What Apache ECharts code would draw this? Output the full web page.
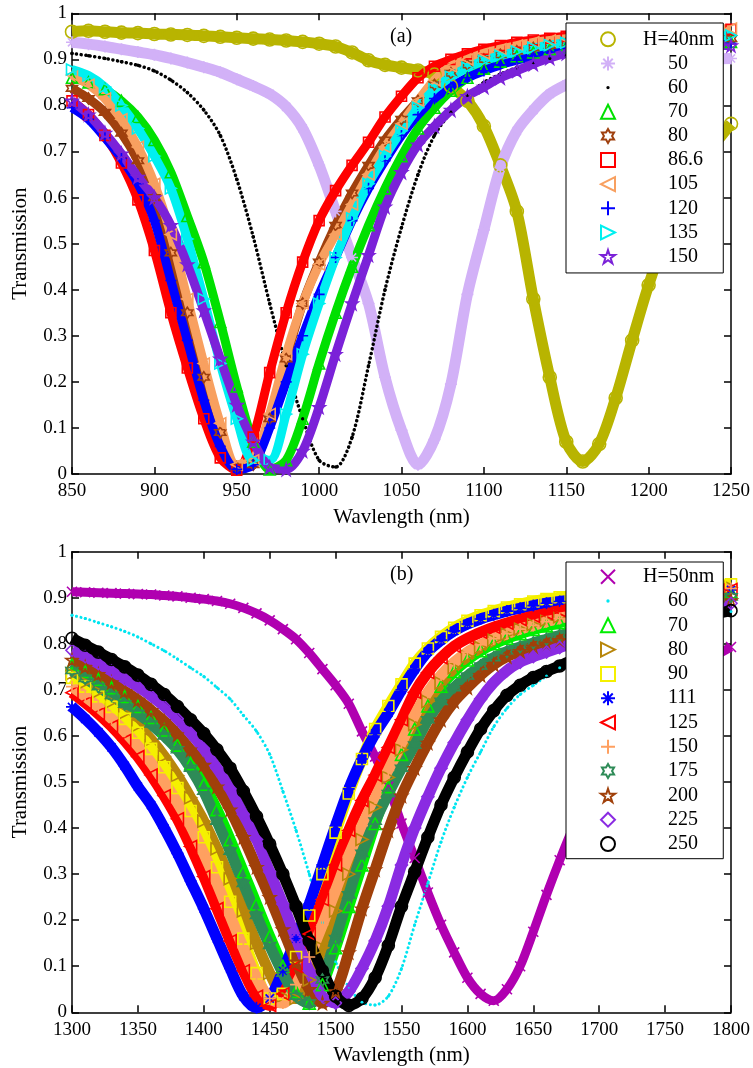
<!DOCTYPE html>
<html>
<head>
<meta charset="utf-8">
<script src="https://cdn.jsdelivr.net/npm/echarts@6/dist/echarts.min.js"></script>
<style>
  html, body { margin: 0; padding: 0; background: #fff; }
  #chart { width: 753px; height: 1068px; }
</style>
</head>
<body>
<div id="chart"></div>
<script>
// wavelength grids (nm)
var wlA = [850, 860, 870, 880, 890, 900, 910, 920, 930, 940, 950, 960, 970, 980, 990, 1000, 1010, 1020, 1030, 1040,
  1050, 1060, 1070, 1080, 1090, 1100, 1110, 1120, 1130, 1140, 1150, 1160, 1170, 1180, 1190, 1200, 1210, 1220, 1230, 1240, 1250];
var wlB = [1300, 1310, 1320, 1330, 1340, 1350, 1360, 1370, 1380, 1390, 1400, 1410, 1420, 1430, 1440, 1450, 1460, 1470, 1480, 1490,
  1500, 1510, 1520, 1530, 1540, 1550, 1560, 1570, 1580, 1590, 1600, 1610, 1620, 1630, 1640, 1650, 1660, 1670, 1680, 1690,
  1700, 1710, 1720, 1730, 1740, 1750, 1760, 1770, 1780, 1790, 1800];

// (a) transmission for H = 40 ... 150 nm
var tA40 = [.960, .962, .960, .958, .957, .955, .954, .953, .951, .949, .947, .945, .943, .941, .938, .934, .928, .915, .898, .888,
  .882, .876, .867, .842, .810, .755, .670, .570, .380, .210, .070, .027, .065, .165, .290, .410, .510, .590, .660, .715, .760];
var tA50 = [.937, .933, .928, .922, .916, .910, .902, .893, .883, .872, .857, .842, .825, .797, .750, .670, .570, .470, .370, .210,
  .095, .020, .075, .195, .390, .530, .665, .745, .790, .825, .845, .860, .870, .878, .884, .889, .893, .896, .899, .901, .902];
var tA60 = [.913, .908, .902, .895, .887, .875, .855, .828, .790, .735, .640, .515, .370, .235, .120, .030, .015, .080, .235, .400,
  .535, .650, .735, .785, .822, .850, .868, .882, .893, .902, .908, .914, .919, .923, .926, .929, .931, .933, .935, .936, .937];
var tA70 = [.860, .850, .835, .810, .775, .725, .655, .560, .460, .330, .190, .070, .010, .030, .120, .240, .350, .450, .540, .620,
  .690, .750, .795, .832, .860, .880, .895, .907, .915, .922, .927, .930, .932, .934, .935, .936, .937, .937, .938, .938, .938];
var tA80 = [.837, .815, .785, .740, .680, .600, .480, .350, .210, .090, .015, .020, .120, .250, .370, .460, .540, .610, .670, .725,
  .770, .810, .845, .870, .888, .900, .910, .918, .925, .930, .935, .938, .940, .941, .942, .943, .944, .944, .945, .945, .945];
var tA866 = [.810, .780, .735, .675, .595, .485, .350, .230, .120, .035, .008, .080, .220, .350, .460, .550, .615, .670, .720, .775,
  .820, .860, .885, .900, .912, .922, .930, .937, .942, .946, .950, .953, .955, .957, .959, .960, .961, .962, .963, .964, .965];
var tA105 = [.866, .845, .815, .770, .710, .630, .520, .380, .240, .110, .020, .030, .130, .260, .370, .455, .520, .585, .650, .710,
  .760, .810, .855, .885, .900, .913, .922, .930, .937, .941, .945, .949, .952, .955, .957, .959, .961, .963, .965, .966, .967];
var tA120 = [.795, .770, .730, .685, .630, .550, .420, .290, .160, .060, .010, .020, .100, .200, .300, .390, .470, .550, .620, .680,
  .735, .780, .815, .840, .860, .875, .888, .898, .907, .916, .924, .928, .930, .932, .933, .934, .935, .935, .935, .935, .935];
var tA135 = [.878, .865, .840, .800, .750, .690, .620, .510, .380, .240, .120, .030, .030, .130, .260, .370, .470, .555, .630, .690,
  .745, .795, .835, .862, .882, .897, .908, .917, .925, .931, .936, .940, .943, .945, .947, .948, .949, .950, .951, .951, .952];
var tA150 = [.810, .780, .740, .695, .645, .600, .540, .455, .355, .250, .150, .070, .015, .010, .050, .145, .260, .370, .475, .580,
  .655, .715, .755, .790, .820, .840, .860, .875, .890, .903, .913, .918, .921, .924, .926, .927, .928, .929, .930, .930, .930];

// (b) transmission for H = 50 ... 250 nm
var tB50 = [.913, .912, .911, .910, .909, .908, .907, .905, .903, .900, .897, .893, .887, .878, .866, .851, .832, .810, .780, .745,
  .710, .670, .610, .555, .490, .410, .335, .260, .190, .130, .075, .040, .025, .050, .100, .175, .255, .330, .400, .460,
  .515, .560, .600, .635, .670, .695, .720, .740, .760, .777, .793];
var tB60 = [.862, .855, .846, .837, .827, .815, .800, .785, .767, .748, .729, .705, .680, .645, .610, .560, .480, .395, .300, .195,
  .110, .055, .022, .016, .035, .095, .190, .280, .370, .445, .510, .565, .620, .660, .690, .710, .730, .748, .765, .780,
  .793, .805, .815, .825, .834, .842, .849, .855, .860, .865, .870];
var tB70 = [.755, .740, .723, .705, .686, .664, .640, .613, .580, .540, .495, .440, .375, .305, .235, .165, .100, .045, .020, .060,
  .140, .230, .320, .410, .490, .560, .615, .665, .708, .740, .765, .785, .800, .812, .822, .831, .839, .846, .853, .860,
  .866, .872, .878, .883, .888, .893, .898, .902, .906, .910, .913];
var tB80 = [.735, .716, .696, .674, .650, .623, .592, .556, .514, .466, .415, .355, .290, .220, .150, .085, .035, .030, .070, .140,
  .220, .300, .375, .445, .510, .570, .625, .675, .715, .748, .772, .792, .808, .821, .832, .842, .851, .859, .866, .872,
  .878, .884, .889, .894, .899, .903, .907, .911, .915, .919, .922];
var tB90 = [.726, .707, .686, .663, .637, .607, .572, .532, .487, .437, .380, .315, .240, .160, .085, .030, .040, .120, .210, .300,
  .390, .475, .550, .615, .665, .712, .757, .790, .815, .835, .850, .862, .871, .879, .886, .892, .897, .901, .905, .908,
  .911, .914, .916, .918, .920, .922, .924, .926, .927, .928, .929];
var tB111 = [.663, .637, .608, .575, .535, .490, .450, .400, .345, .285, .225, .160, .095, .035, .010, .030, .090, .160, .235, .320,
  .405, .485, .550, .605, .650, .700, .745, .783, .808, .828, .843, .854, .863, .871, .877, .883, .888, .892, .896, .899,
  .902, .905, .907, .909, .911, .912, .913, .914, .915, .916, .917];
var tB125 = [.694, .672, .648, .621, .590, .555, .515, .470, .420, .360, .295, .225, .155, .090, .035, .015, .040, .100, .170, .245,
  .320, .395, .460, .515, .575, .635, .695, .738, .770, .795, .812, .825, .836, .845, .853, .860, .866, .872, .877, .882,
  .886, .890, .894, .898, .901, .904, .907, .910, .913, .916, .918];
var tB150 = [.707, .686, .663, .638, .610, .578, .542, .500, .455, .405, .345, .280, .210, .140, .075, .030, .020, .060, .120, .190,
  .265, .340, .405, .465, .525, .585, .645, .695, .732, .760, .782, .798, .811, .822, .832, .840, .848, .855, .862, .868,
  .874, .880, .885, .890, .895, .900, .905, .909, .913, .917, .920];
var tB175 = [.742, .725, .707, .688, .669, .649, .626, .600, .570, .530, .480, .415, .350, .280, .210, .145, .085, .035, .020, .070,
  .160, .255, .345, .415, .475, .530, .580, .635, .675, .705, .730, .752, .770, .783, .793, .802, .810, .818, .826, .834,
  .842, .849, .856, .863, .870, .876, .882, .887, .892, .897, .902];
var tB200 = [.765, .750, .734, .716, .697, .678, .656, .632, .603, .570, .537, .490, .440, .380, .315, .250, .180, .110, .050, .020,
  .045, .130, .225, .310, .395, .470, .530, .585, .635, .675, .705, .732, .755, .772, .784, .793, .800, .808, .815, .823,
  .830, .838, .845, .852, .859, .866, .872, .878, .884, .889, .894];
var tB225 = [.786, .772, .757, .741, .724, .707, .687, .664, .637, .606, .572, .530, .485, .430, .375, .305, .235, .160, .090, .035,
  .020, .045, .095, .155, .230, .320, .400, .468, .530, .585, .635, .680, .716, .742, .760, .772, .782, .792, .802, .812,
  .822, .831, .840, .848, .855, .862, .868, .874, .879, .884, .888];
var tB250 = [.812, .797, .782, .766, .750, .732, .712, .690, .664, .635, .605, .570, .530, .480, .425, .365, .300, .230, .155, .090,
  .035, .015, .030, .075, .145, .230, .305, .380, .450, .510, .565, .615, .655, .688, .710, .727, .740, .752, .765, .778,
  .790, .800, .810, .820, .830, .838, .846, .853, .860, .866, .872];

var FONT = '"Liberation Serif", "Times New Roman", serif';

// marker shapes (MATLAB style)
var SYM = {
  circle: 'circle',
  asterisk: 'path://M5,0L5,10M0,5L10,5M1.6,1.6L8.4,8.4M8.4,1.6L1.6,8.4',
  dot: 'circle',
  dotIcon: 'path://M0,0L0.01,0M10,10L10.01,10M3.8,5A1.2,1.2 0 1 0 6.2,5A1.2,1.2 0 1 0 3.8,5Z',
  triUp: 'triangle',
  hexagram: 'path://M5,0L6.443,2.5L9.33,2.5L7.887,5L9.33,7.5L6.443,7.5L5,10L3.557,7.5L0.67,7.5L2.113,5L0.67,2.5L3.557,2.5Z',
  square: 'rect',
  triLeft: 'path://M0,5L10,0L10,10Z',
  triRight: 'path://M10,5L0,0L0,10Z',
  plus: 'path://M5,0L5,10M0,5L10,5',
  star: 'path://M5,0L6.123,3.455L9.755,3.455L6.817,5.59L7.939,9.045L5,6.91L2.061,9.045L3.183,5.59L0.245,3.455L3.877,3.455Z',
  cross: 'path://M0,0L10,10M10,0L0,10',
  diamond: 'diamond'
};

function curve(name, xs, ys, color, sym, size, width, axis, dotted) {
  return {
    type: 'line',
    name: name,
    xAxisIndex: axis,
    yAxisIndex: axis,
    data: xs.map(function (x, i) { return [x, ys[i]]; }),
    symbol: sym,
    symbolSize: size,
    showSymbol: true,
    showAllSymbol: true,
    smooth: 0.3,
    silent: true,
    color: color,
    lineStyle: dotted ? { color: color, width: width, type: [0.1, 4.5], cap: 'round' }
                      : { color: color, width: width },
    itemStyle: dotted ? { color: color, borderWidth: 0 }
                      : { color: 'rgba(255,255,255,0)', borderColor: color, borderWidth: 1.6 },
    emphasis: { disabled: true }
  };
}

var seriesA = [
  curve('a:H=40nm', wlA, tA40, '#b8b400', SYM.circle, 13, 11, 0),
  curve('a:50', wlA, tA50, '#d2b1f7', SYM.asterisk, 12, 11, 0),
  curve('a:60', wlA, tA60, '#000000', SYM.dot, 3.5, 3.5, 0, true),
  curve('a:70', wlA, tA70, '#00e000', SYM.triUp, 11, 9, 0),
  curve('a:80', wlA, tA80, '#a0400e', SYM.hexagram, 11, 9, 0),
  curve('a:86.6', wlA, tA866, '#ff0000', SYM.square, 10, 9, 0),
  curve('a:105', wlA, tA105, '#f8a060', SYM.triLeft, 11, 9, 0),
  curve('a:120', wlA, tA120, '#0000ff', SYM.plus, 11, 9, 0),
  curve('a:135', wlA, tA135, '#00f0f0', SYM.triRight, 11, 9, 0),
  curve('a:150', wlA, tA150, '#7b22d8', SYM.star, 12, 9, 0)
];
var iconsA = [SYM.circle, SYM.asterisk, SYM.dotIcon, SYM.triUp, SYM.hexagram, SYM.square, SYM.triLeft, SYM.plus, SYM.triRight, SYM.star];

var seriesB = [
  curve('b:H=50nm', wlB, tB50, '#b000b0', SYM.cross, 10, 9, 2),
  curve('b:60', wlB, tB60, '#00e5f0', SYM.dot, 3, 3, 2, true),
  curve('b:70', wlB, tB70, '#00ee00', SYM.triUp, 12, 11, 2),
  curve('b:80', wlB, tB80, '#b8860b', SYM.triRight, 12, 11, 2),
  curve('b:90', wlB, tB90, '#f5f000', SYM.square, 11, 11, 2),
  curve('b:111', wlB, tB111, '#0000ff', SYM.asterisk, 12, 11, 2),
  curve('b:125', wlB, tB125, '#ff0000', SYM.triLeft, 12, 11, 2),
  curve('b:150', wlB, tB150, '#ffa060', SYM.plus, 12, 11, 2),
  curve('b:175', wlB, tB175, '#2e8b57', SYM.hexagram, 12, 11, 2),
  curve('b:200', wlB, tB200, '#a0400a', SYM.star, 12, 11, 2),
  curve('b:225', wlB, tB225, '#8a2be2', SYM.diamond, 12, 11, 2),
  curve('b:250', wlB, tB250, '#000000', SYM.circle, 12, 11, 2)
];
var iconsB = [SYM.cross, SYM.dotIcon, SYM.triUp, SYM.triRight, SYM.square, SYM.asterisk, SYM.triLeft, SYM.plus, SYM.hexagram, SYM.star, SYM.diamond, SYM.circle];

function plain(v) { return String(v); }

function xAxis(grid, min, max, pos, labels) {
  return {
    type: 'value', gridIndex: grid, min: min, max: max, interval: 50, position: pos,
    axisLine: { show: true, onZero: false, lineStyle: { color: '#000', width: 1.5 } },
    axisTick: { show: true, inside: true, length: 7, lineStyle: { color: '#000', width: 1.5 } },
    axisLabel: { show: labels, color: '#000', fontFamily: FONT, fontSize: 19, margin: 8,
                 showMinLabel: true, showMaxLabel: true, formatter: plain },
    splitLine: { show: false },
    name: labels ? 'Wavlength (nm)' : '',
    nameLocation: 'middle', nameGap: 33,
    nameTextStyle: { color: '#000', fontFamily: FONT, fontSize: 21 }
  };
}
function yAxis(grid, pos, labels) {
  return {
    type: 'value', gridIndex: grid, min: 0, max: 1, interval: 0.1, position: pos,
    axisLine: { show: true, onZero: false, lineStyle: { color: '#000', width: 1.5 } },
    axisTick: { show: true, inside: true, length: 7, lineStyle: { color: '#000', width: 1.5 } },
    axisLabel: { show: labels, color: '#000', fontFamily: FONT, fontSize: 19, margin: 5,
                 showMinLabel: true, showMaxLabel: true, formatter: plain },
    splitLine: { show: false },
    name: labels ? 'Transmission' : '',
    nameLocation: 'middle', nameGap: 41,
    nameTextStyle: { color: '#000', fontFamily: FONT, fontSize: 21 }
  };
}

function legendFmt(name) {
  var t = name.slice(2);
  return t.indexOf('H=') === 0 ? '{f|' + t + '}' : '{n|' + t + '}';
}
function legend(series, icons, top, padV, gap) {
  return {
    orient: 'vertical', left: 566, top: top,
    padding: [padV, 9, padV, 34],
    itemWidth: 14, itemHeight: 14, itemGap: gap,
    borderColor: '#000', borderWidth: 1, backgroundColor: '#fff',
    selectedMode: false,
    data: series.map(function (s, i) { return { name: s.name, icon: icons[i] }; }),
    formatter: legendFmt,
    textStyle: {
      color: '#000', fontFamily: FONT, fontSize: 20, lineHeight: 20,
      rich: {
        f: { color: '#000', fontFamily: FONT, fontSize: 20, lineHeight: 20, padding: [0, 0, 0, 23] },
        n: { color: '#000', fontFamily: FONT, fontSize: 20, lineHeight: 20, padding: [0, 0, 0, 48] }
      }
    }
  };
}

var chart = echarts.init(document.getElementById('chart'), null, { renderer: 'canvas' });
chart.setOption({
  animation: false,
  backgroundColor: '#fff',
  title: [
    { text: '(a)', left: 390, top: 27, padding: 0, textStyle: { color: '#000', fontFamily: FONT, fontSize: 20, fontWeight: 'normal' } },
    { text: '(b)', left: 390, top: 565, padding: 0, textStyle: { color: '#000', fontFamily: FONT, fontSize: 20, fontWeight: 'normal' } }
  ],
  grid: [
    { left: 72, top: 13.3, width: 659.7, height: 460.7 },
    { left: 72, top: 551.7, width: 659.7, height: 460.6 }
  ],
  xAxis: [
    xAxis(0, 850, 1250, 'bottom', true),
    xAxis(0, 850, 1250, 'top', false),
    xAxis(1, 1300, 1800, 'bottom', true),
    xAxis(1, 1300, 1800, 'top', false)
  ],
  yAxis: [
    yAxis(0, 'left', true),
    yAxis(0, 'right', false),
    yAxis(1, 'left', true),
    yAxis(1, 'right', false)
  ],
  legend: [
    legend(seriesA, iconsA, 23, 6.3, 4.15),
    legend(seriesB, iconsB, 562, 4.7, 4.3)
  ],
  series: seriesA.concat(seriesB)
});
</script>
</body>
</html>
